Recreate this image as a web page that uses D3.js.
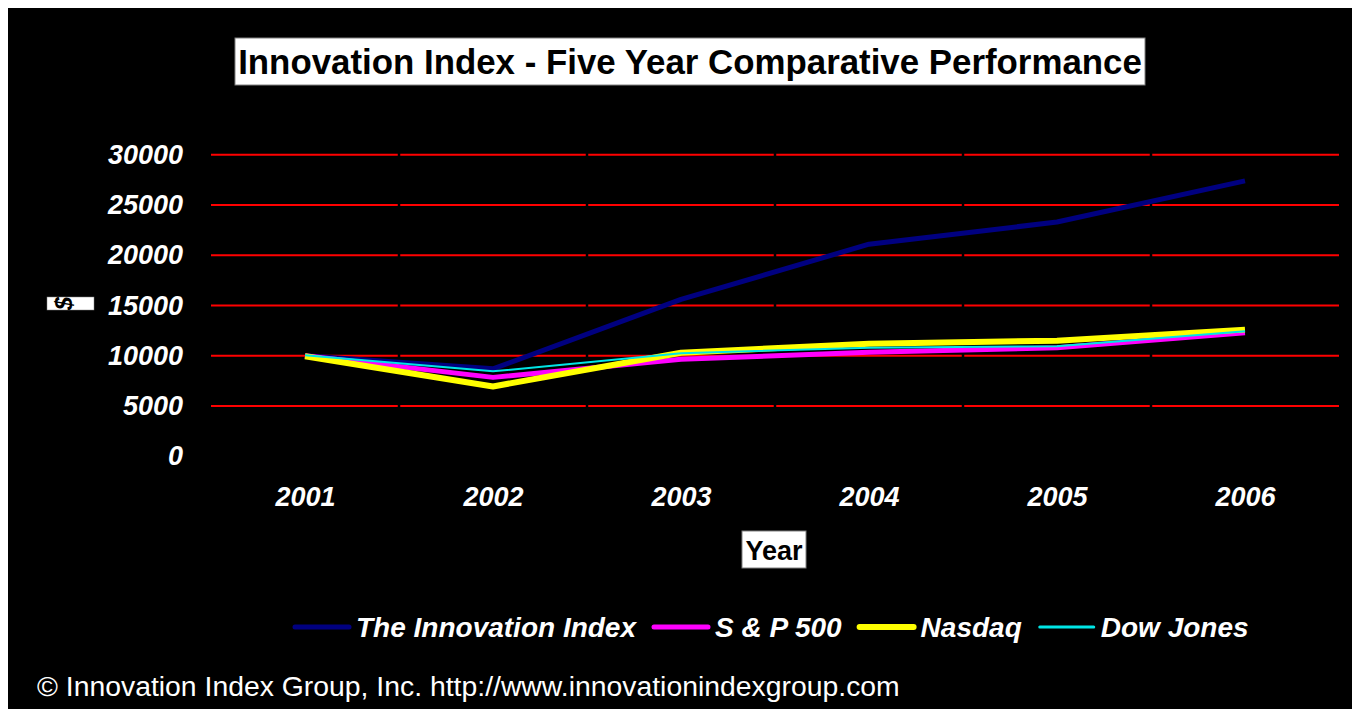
<!DOCTYPE html>
<html>
<head>
<meta charset="utf-8">
<script src="https://cdn.jsdelivr.net/npm/d3@7"></script>
<style>
  html, body { margin: 0; padding: 0; background: #ffffff; }
  svg { display: block; font-family: "Liberation Sans", Arial, sans-serif; }
</style>
</head>
<body>
<svg id="chart"></svg>
<script>
// data
const years = ["2001", "2002", "2003", "2004", "2005", "2006"];
const innovationIndex = [10000, 8700, 15600, 21100, 23300, 27400];
const sp500 = [10000, 7850, 9650, 10350, 10800, 12300];
const nasdaq = [9950, 6950, 10300, 11200, 11500, 12600];
const dowJones = [10050, 8450, 10250, 10800, 10950, 12450];
const yTicks = [0, 5000, 10000, 15000, 20000, 25000, 30000];

const seriesNames = ["The Innovation Index", "S & P 500", "Nasdaq", "Dow Jones"];
const seriesValues = [innovationIndex, sp500, nasdaq, dowJones];
const seriesColors = ["#000080", "#ff00ff", "#ffff00", "#00e5e5"];
const seriesWidths = [5, 5, 6, 2];

const width = 1352, height = 709;
const svg = d3.select("#chart").attr("width", width).attr("height", height);

// background: thin white border top / left, black panel
svg.append("rect").attr("width", width).attr("height", height).attr("fill", "#fff");
svg.append("rect").attr("x", 8).attr("y", 8)
  .attr("width", width - 8).attr("height", height - 8).attr("fill", "#000");

const x = d3.scalePoint().domain(years).range([211, 1339]).padding(0.5);
const y = d3.scaleLinear().domain([0, 30000]).range([456.3, 154.7]);
const step = x.step();

// gridlines
svg.append("g").selectAll("line")
  .data(yTicks.filter(d => d > 0))
  .join("line")
  .attr("x1", 211).attr("x2", 1339)
  .attr("y1", d => y(d)).attr("y2", d => y(d))
  .attr("stroke", "#ff0000").attr("stroke-width", 2);

// small breaks in the gridlines at the category boundaries
svg.append("g").selectAll("line")
  .data(years.slice(1))
  .join("line")
  .attr("x1", d => x(d) - step / 2).attr("x2", d => x(d) - step / 2)
  .attr("y1", 150).attr("y2", 460)
  .attr("stroke", "#000").attr("stroke-width", 2.5);

// y axis labels
const yAxis = d3.axisLeft(y).tickValues(yTicks).tickFormat(d3.format("d"))
  .tickSize(0).tickPadding(0);
const yg = svg.append("g").attr("transform", "translate(183,0)").call(yAxis);
yg.select(".domain").remove();
yg.selectAll("text")
  .attr("fill", "#fff")
  .attr("font-size", 27).attr("font-weight", "bold").attr("font-style", "italic")
  .attr("font-family", "Liberation Sans, Arial, sans-serif");

// x axis labels
const xAxis = d3.axisBottom(x).tickSize(0).tickPadding(0);
const xg = svg.append("g").attr("transform", "translate(0,487)").call(xAxis);
xg.select(".domain").remove();
xg.selectAll("text")
  .attr("fill", "#fff")
  .attr("font-size", 27).attr("font-weight", "bold").attr("font-style", "italic")
  .attr("font-family", "Liberation Sans, Arial, sans-serif");

// series lines
const line = d3.line().x((d, i) => x(years[i])).y(d => y(d));
svg.append("g").selectAll("path")
  .data(seriesValues)
  .join("path")
  .attr("d", d => line(d))
  .attr("fill", "none")
  .attr("stroke", (d, i) => seriesColors[i])
  .attr("stroke-width", (d, i) => seriesWidths[i])
  .attr("stroke-linejoin", "round");

// title box
function fitText(sel, target) {
  const w = sel.node().getComputedTextLength();
  const fs = +sel.attr("font-size");
  sel.attr("font-size", fs * target / w);
}
svg.append("rect").attr("x", 235).attr("y", 38).attr("width", 910).attr("height", 47)
  .attr("fill", "#fff").attr("stroke", "#808080").attr("stroke-width", 1);
const title = svg.append("text")
  .attr("x", 690).attr("y", 74)
  .attr("text-anchor", "middle")
  .attr("font-size", 32).attr("font-weight", "bold")
  .attr("fill", "#000")
  .text("Innovation Index - Five Year Comparative Performance");
fitText(title, 904);

// y axis title "$" (rotated, in a small clipped box)
svg.append("clipPath").attr("id", "dollarClip")
  .append("rect").attr("x", 47).attr("y", 297).attr("width", 47).attr("height", 13);
svg.append("rect").attr("x", 47).attr("y", 297).attr("width", 47).attr("height", 13)
  .attr("fill", "#fff").attr("stroke", "#808080").attr("stroke-width", 0.5);
svg.append("g").attr("clip-path", "url(#dollarClip)")
  .append("text")
  .attr("transform", "translate(64,303.5) rotate(-90)")
  .attr("text-anchor", "middle")
  .attr("dy", "0.35em")
  .attr("font-size", 24).attr("font-weight", "bold").attr("font-style", "italic")
  .attr("fill", "#000")
  .text("$");

// x axis title
svg.append("rect").attr("x", 742).attr("y", 531).attr("width", 64).attr("height", 37)
  .attr("fill", "#fff").attr("stroke", "#808080").attr("stroke-width", 1);
svg.append("text")
  .attr("x", 774).attr("y", 560)
  .attr("text-anchor", "middle")
  .attr("font-size", 27).attr("font-weight", "bold")
  .attr("fill", "#000")
  .text("Year");

// legend
const legend = svg.append("g").attr("transform", "translate(295,627)");
let lx = 0;
seriesNames.forEach((name, i) => {
  legend.append("line")
    .attr("x1", lx).attr("x2", lx + 54)
    .attr("y1", 0).attr("y2", 0)
    .attr("stroke", seriesColors[i])
    .attr("stroke-width", Math.max(seriesWidths[i], 3))
    .attr("stroke-linecap", "round");
  const t = legend.append("text")
    .attr("x", lx + 61).attr("y", 10)
    .attr("font-size", 28).attr("font-weight", "bold").attr("font-style", "italic")
    .attr("fill", "#fff")
    .text(name);
  lx += 61 + t.node().getComputedTextLength() + 18;
});

// footer
const foot = svg.append("text")
  .attr("x", 37).attr("y", 696)
  .attr("font-size", 24)
  .attr("fill", "#fff")
  .text("\u00a9 Innovation Index Group, Inc. http://www.innovationindexgroup.com");
fitText(foot, 863);
</script>
</body>
</html>
